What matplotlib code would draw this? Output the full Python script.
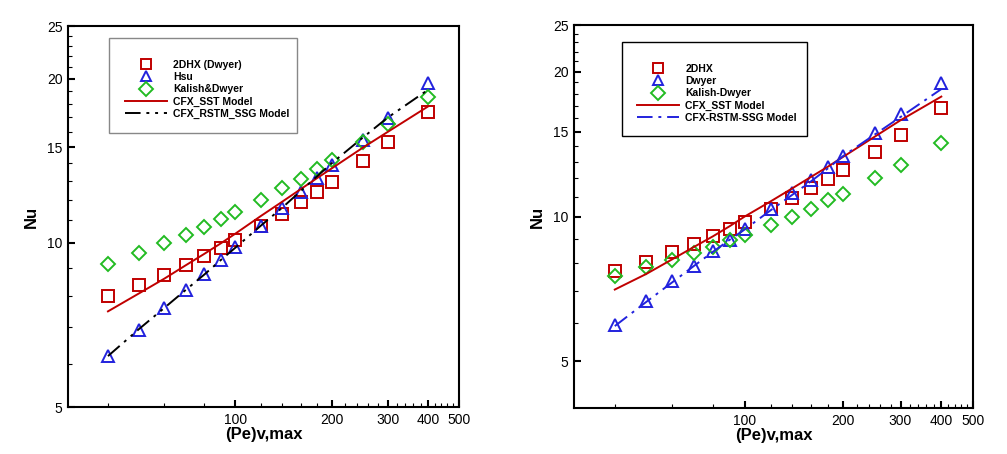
import matplotlib
matplotlib.use("Agg")
import matplotlib.pyplot as plt
from matplotlib.lines import Line2D
from matplotlib.patches import Rectangle
from matplotlib.ticker import NullFormatter

plt.rcParams['font.family'] = ['Liberation Sans', 'DejaVu Sans']

# Peclet numbers (shared by both panels)
pe = [40, 50, 60, 70, 80, 90, 100, 120, 140, 160, 180, 200, 250, 300, 400]

# left panel
l_2dhx = [7.98, 8.38, 8.74, 9.12, 9.47, 9.81, 10.13, 10.76, 11.32, 11.88, 12.42, 12.96, 14.16, 15.30, 17.41]
l_hsu = [6.21, 6.93, 7.59, 8.21, 8.77, 9.31, 9.82, 10.76, 11.58, 12.39, 13.14, 13.90, 15.45, 16.93, 19.62]
l_kalish = [9.14, 9.58, 9.98, 10.35, 10.72, 11.07, 11.39, 12.00, 12.60, 13.13, 13.65, 14.20, 15.34, 16.51, 18.50]
l_sst = [7.49, 8.08, 8.60, 9.10, 9.55, 9.98, 10.40, 11.20, 11.90, 12.55, 13.15, 13.70, 14.95, 16.00, 17.80]
l_ssg = [6.20, 6.95, 7.60, 8.20, 8.75, 9.30, 9.80, 10.75, 11.60, 12.45, 13.25, 14.00, 15.60, 17.00, 19.10]
l_names = ['2DHX (Dwyer)', 'Hsu', 'Kalish&Dwyer', 'CFX_SST Model', 'CFX_RSTM_SSG Model']

# right panel
r_2dhx = [7.69, 8.06, 8.42, 8.78, 9.12, 9.44, 9.76, 10.37, 10.92, 11.45, 11.97, 12.48, 13.62, 14.77, 16.84]
r_dwyer = [5.96, 6.68, 7.33, 7.91, 8.46, 8.94, 9.41, 10.37, 11.18, 11.92, 12.66, 13.36, 14.89, 16.31, 18.92]
r_kalish = [7.53, 7.86, 8.12, 8.39, 8.66, 8.92, 9.15, 9.61, 10.00, 10.37, 10.81, 11.14, 12.01, 12.82, 14.22]
r_sst = [7.05, 7.60, 8.15, 8.65, 9.10, 9.55, 10.00, 10.75, 11.45, 12.10, 12.70, 13.30, 14.65, 15.85, 17.75]
r_ssg = [5.92, 6.65, 7.30, 7.90, 8.45, 8.95, 9.40, 10.30, 11.10, 11.85, 12.60, 13.35, 14.80, 16.10, 18.40]
r_names = ['2DHX', 'Dwyer', 'Kalish-Dwyer', 'CFX_SST Model', 'CFX-RSTM-SSG Model']

x_major = [100, 200, 300, 400, 500]
x_minor = [40, 60, 80, 120, 140, 160, 180, 220, 240, 260, 280, 320, 340, 360, 380, 420, 440, 460, 480]
y_major = [5, 10, 15, 20, 25]

RED = '#c00000'
BLUE = '#2222dd'
GREEN = '#22bb22'


def panel(ax, sq, tri, dia, sst, ssg, names, ssg_color, ssg_dash, ymin,
          leg_anchor, box, box_color):
    mk = dict(linestyle='none', markerfacecolor='none', markersize=8, markeredgewidth=1.4)
    dk = dict(linestyle='none', markerfacecolor='none', markersize=7.5, markeredgewidth=1.4)
    ax.plot(pe, sq, marker='s', markeredgecolor=RED, **mk)
    ax.plot(pe, tri, marker='^', markeredgecolor=BLUE, **mk)
    ax.plot(pe, dia, marker='D', markeredgecolor=GREEN, **dk)
    ax.plot(pe, sst, color=RED, lw=1.4)
    ax.plot(pe, ssg, color=ssg_color, lw=1.4, linestyle=ssg_dash)

    ax.set_xscale('log')
    ax.set_yscale('log')
    ax.set_xlim(30, 500)
    ax.set_ylim(ymin, 25)
    ax.set_xticks(x_major)
    ax.set_xticklabels([str(v) for v in x_major])
    ax.set_xticks(x_minor, minor=True)
    ax.xaxis.set_minor_formatter(NullFormatter())
    ax.set_yticks(y_major)
    ax.set_yticklabels([str(v) for v in y_major])
    ax.set_yticks([v for v in range(6, 25) if v % 5 != 0 and v > ymin], minor=True)
    ax.yaxis.set_minor_formatter(NullFormatter())
    ax.tick_params(which='major', direction='in', length=5, width=1.5, labelsize=10, pad=4)
    ax.tick_params(which='minor', direction='in', length=3, width=0.8)
    ax.tick_params(top=False, right=False, which='both')
    for s in ax.spines.values():
        s.set_linewidth(1.5)

    ax.set_xlabel('(Pe)v,max', fontsize=12, fontweight='bold', labelpad=0)
    ax.set_ylabel('Nu', fontsize=12, fontweight='bold', labelpad=6)

    # legend entries use slightly smaller markers, like the reference key
    lk = dict(linestyle='none', markerfacecolor='none', markersize=7, markeredgewidth=1.4)
    handles = [
        Line2D([], [], marker='s', markeredgecolor=RED, **lk),
        Line2D([], [], marker='^', markeredgecolor=BLUE, **lk),
        Line2D([], [], marker='D', markeredgecolor=GREEN, **lk),
        Line2D([], [], color=RED, lw=1.4),
        Line2D([], [], color=ssg_color, lw=1.4, linestyle=ssg_dash),
    ]
    ax.legend(handles, names, loc='upper left', bbox_to_anchor=leg_anchor,
              frameon=False, borderpad=0, borderaxespad=0, handlelength=4.0,
              handletextpad=0.65, labelspacing=0.22,
              prop={'family': 'Liberation Sans', 'weight': 'bold', 'size': 7.5})
    ax.add_patch(Rectangle(box[:2], box[2], box[3], transform=ax.transAxes,
                           fill=False, edgecolor=box_color, lw=1.0, zorder=5))


fig = plt.figure(figsize=(10.07, 4.54), dpi=100)
ax1 = fig.add_axes([0.0675, 0.1035, 0.3883, 0.839])
ax2 = fig.add_axes([0.570, 0.1013, 0.3962, 0.8436])

panel(ax1, l_2dhx, l_hsu, l_kalish, l_sst, l_ssg, l_names, 'black',
      (0, (8, 3, 1.5, 3, 1.5, 3)), 5, (0.1458, 0.912),
      (0.1049, 0.719, 0.481, 0.249), '#888888')
panel(ax2, r_2dhx, r_dwyer, r_kalish, r_sst, r_ssg, r_names, BLUE,
      (0, (8, 3, 1.5, 3)), 4, (0.158, 0.899),
      (0.1203, 0.710, 0.4637, 0.2454), 'black')

fig.savefig('out.png', dpi=100)
